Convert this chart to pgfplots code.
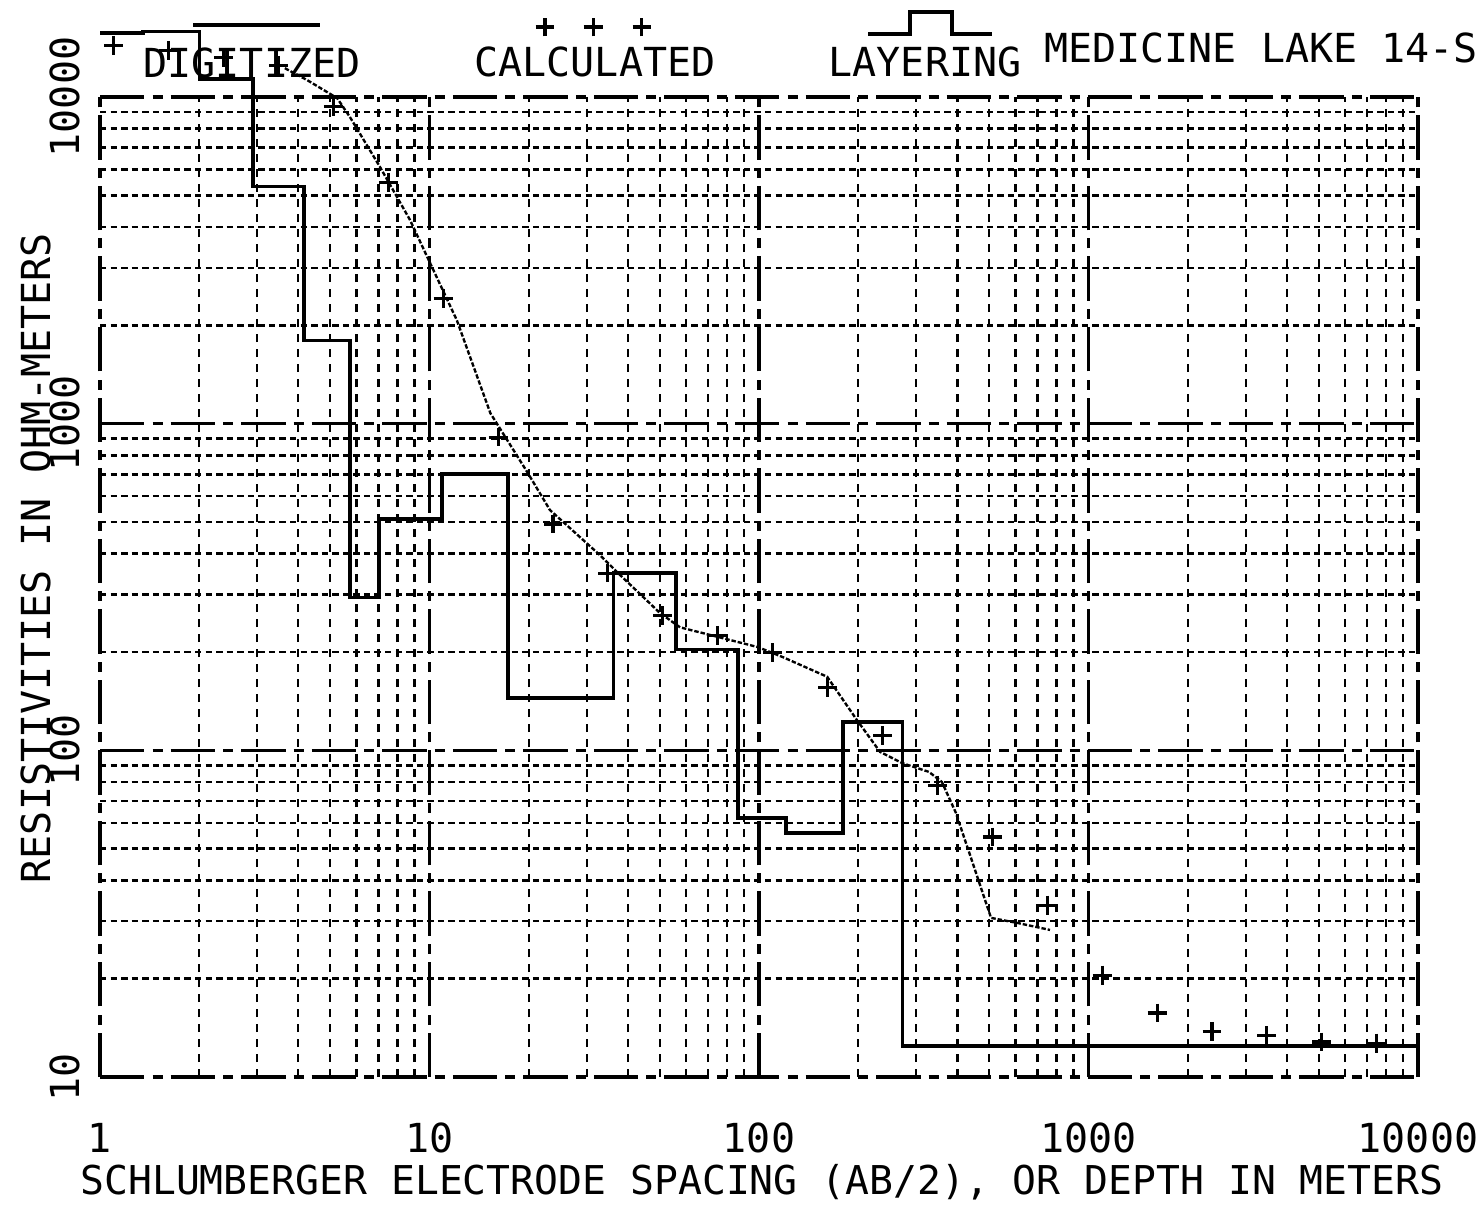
\documentclass[border=0pt]{standalone}
\usepackage{fontspec}
\usepackage{pgfplots}
\pgfplotsset{compat=1.18}
\setmainfont{DejaVu Sans Mono}
\newcommand{\pf}{\fontsize{14.4}{17}\selectfont}
\begin{document}
\begin{tikzpicture}[x=1pt,y=1pt]
\path[use as bounding box] (-36,-49.68) rectangle (498.24,387.72);
\begin{axis}[
  at={(0,0)}, anchor=south west,
  scale only axis, width=474.48pt, height=352.8pt,
  xmode=log, ymode=log,
  xmin=1, xmax=10000, ymin=10, ymax=10000,
  clip=false,
  axis line style={draw=none},
  xtick={1,10,100,1000,10000},
  ytick={10,100,1000,10000},
  minor xtick={2,3,4,5,6,7,8,9,20,30,40,50,60,70,80,90,200,300,400,500,600,700,800,900,2000,3000,4000,5000,6000,7000,8000,9000},
  minor ytick={20,30,40,50,60,70,80,90,200,300,400,500,600,700,800,900,2000,3000,4000,5000,6000,7000,8000,9000},
  xticklabels={}, yticklabels={},
  major tick length=0pt, minor tick length=0pt,
  grid=both,
  major grid style={black, line width=1.3pt, dash pattern=on 16pt off 2.9pt on 3.6pt off 2.9pt},
  minor x grid style={black, line width=0.8pt, dash pattern=on 2.9pt off 2.5pt},
  minor y grid style={black, line width=0.9pt, dash pattern=on 2.3pt off 1.5pt},
]
% layering
\addplot[black, line width=1.2pt] coordinates {
(1,15700) (1.35,15700) (1.35,15900) (2.0,15900) (2.0,11350) (2.91,11350)
(2.91,5330) (4.16,5330) (4.16,1800) (5.74,1800) (5.74,294) (7.03,294)
(7.03,511) (10.9,511) (10.9,701) (17.3,701) (17.3,144.5) (36.1,144.5)
(36.1,349) (56.0,349) (56.0,204) (86.3,204) (86.3,62.1) (120.8,62.1)
(120.8,55.8) (180,55.8) (180,122) (272,122) (272,12.44) (10000,12.44)
};
% digitized
\addplot[black, line width=0.85pt, dash pattern=on 1.6pt off 0.7pt] coordinates {
(3.64,12250) (4.25,11270) (5.24,9930) (5.74,8670) (7.08,6100) (8.73,4200)
(10.0,3130) (12.1,2075) (15.3,1077) (19.8,711) (23.2,544) (32.9,396)
(37.9,344) (50.1,263) (57.6,238) (99.3,207) (118,193) (161,168)
(198,124) (233,98.9) (272,91.4) (328,85.9) (359,80.0) (396,64.3)
(506,30.7) (611,29.6) (764,28.2)
};
% calculated
\addplot[black, only marks, mark=+, mark size=3.4pt, mark options={line width=1.1pt}] coordinates {
(1.1,14400) (1.615,13900) (2.370,13200) (3.479,12500) (5.106,9380) (7.494,5480)
(11.0,2420) (16.15,910) (23.70,493) (34.79,349) (51.06,258) (74.94,225)
(110,199) (161.5,156) (237.0,111) (347.9,78.3) (510.6,54.3) (749.4,33.6)
(1100,20.5) (1615,15.7) (2370,13.8) (3479,13.4) (5106,12.8) (7494,12.7)
};
\end{axis}
% tick labels
\foreach \xx/\lab in {0/1,118.62/10,237.24/100,355.86/1000,474.48/10000}
  \node[font=\pf, inner sep=0pt] at (\xx,-21.96) {\lab};
\foreach \yy/\lab in {0/10,117.6/100,235.2/1000,352.8/10000}
  \node[font=\pf, inner sep=0pt, rotate=90] at (-12.6,\yy) {\lab};
% axis labels
\node[font=\fontsize{14.3}{17}\selectfont, inner sep=0pt] at (238.3,-37.8) {SCHLUMBERGER ELECTRODE SPACING (AB/2), OR DEPTH IN METERS};
\node[font=\pf, inner sep=0pt, rotate=90] at (-23.2,186.8) {RESISTIVITIES IN OHM-METERS};
% legend / title
\draw[line width=1.2pt] (33.5,378.7) -- (79.2,378.7);
\node[font=\pf, inner sep=0pt] at (54.72,365.04) {DIGITIZED};
\foreach \xx in {160.2,177.5,195.1}
  \draw[line width=1.1pt] (\xx-3.4,378.0) -- (\xx+3.4,378.0) (\xx,374.6) -- (\xx,381.4);
\node[font=\pf, inner sep=0pt] at (178.2,365.4) {CALCULATED};
\draw[line width=1.2pt] (276.5,375.5) -- (291.6,375.5) -- (291.6,383.4) -- (306.7,383.4) -- (306.7,375.5) -- (321.1,375.5);
\node[font=\pf, inner sep=0pt] at (297.0,365.4) {LAYERING};
\node[font=\pf, inner sep=0pt] at (418.0,370.4) {MEDICINE LAKE 14-S};
\end{tikzpicture}
\end{document}
